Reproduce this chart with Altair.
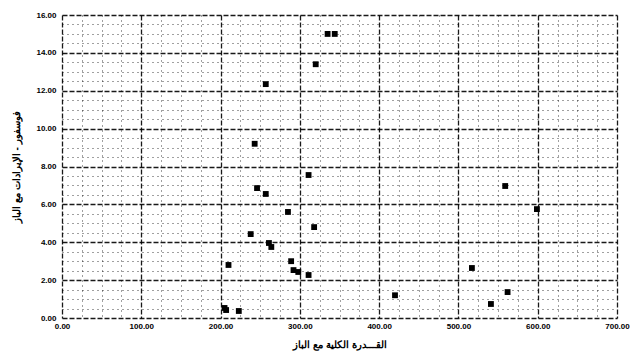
import altair as alt
import pandas as pd

# data
x_vals = [320, 257, 243, 311, 246, 257, 285, 318, 238, 261, 264, 210, 289, 292, 298, 311,
          205, 207, 223, 335, 344, 559, 599, 517, 562, 420, 541]
y_vals = [13.4, 12.35, 9.2, 7.55, 6.86, 6.55, 5.6, 4.8, 4.43, 3.96, 3.75, 2.8, 3.0, 2.53, 2.43, 2.27,
          0.53, 0.42, 0.37, 15.0, 15.0, 6.97, 5.75, 2.64, 1.37, 1.2, 0.74]

x_ticks = [0, 100, 200, 300, 400, 500, 600, 700]
y_ticks = [0, 2, 4, 6, 8, 10, 12, 14, 16]
x_grid = [i * 25 for i in range(29)]
y_grid = [i * 0.5 for i in range(33)]

x_title = "القـــدرة الكلية مع الباز"
y_title = "فوسفور - الإيرادات مع الباز"

df = pd.DataFrame({"x": x_vals, "y": y_vals})

font = "Liberation Sans"

xaxis = alt.Axis(
    values=x_grid,
    labelExpr="datum.value % 100 == 0 ? format(datum.value, '.2f') : ''",
    title=x_title, titleFont=font, titleFontSize=10, titleFontWeight="bold", titleColor="black",
    titlePadding=9,
    labelFont=font, labelFontSize=8, labelFontWeight="bold", labelColor="black", labelPadding=4,
    labelOverlap=False, labelFlush=False,
    ticks=False, domain=False,
    grid=True, gridColor="black",
    gridDash={"condition": {"test": "datum.value % 100 == 0", "value": [5, 2]}, "value": [1, 4]},
    gridWidth={"condition": {"test": "datum.value % 100 == 0", "value": 1.3}, "value": 1},
    gridOpacity={"condition": {"test": "datum.value % 100 == 0", "value": 0.9}, "value": 0.75},
)
yaxis = alt.Axis(
    values=y_grid,
    labelExpr="datum.value % 2 == 0 ? format(datum.value, '.2f') : ''",
    title=y_title, titleFont=font, titleFontSize=10, titleFontWeight="bold", titleColor="black",
    titlePadding=14,
    labelFont=font, labelFontSize=8, labelFontWeight="bold", labelColor="black", labelPadding=6,
    labelOverlap=False, labelFlush=False,
    ticks=False, domain=False,
    grid=True, gridColor="black",
    gridDash={"condition": {"test": "datum.value % 2 == 0", "value": [5, 2]}, "value": [1, 4]},
    gridWidth={"condition": {"test": "datum.value % 2 == 0", "value": 1.3}, "value": 1},
    gridOpacity={"condition": {"test": "datum.value % 2 == 0", "value": 0.9}, "value": 0.75},
)

chart = alt.Chart(df).mark_square(size=34, color="black", opacity=1).encode(
    x=alt.X("x:Q", scale=alt.Scale(domain=[0, 700], nice=False), axis=xaxis),
    y=alt.Y("y:Q", scale=alt.Scale(domain=[0, 16], nice=False), axis=yaxis),
).properties(
    width=555, height=303,
    autosize=alt.AutoSizeParams(type="none"),
    padding={"left": 62, "top": 15, "right": 24, "bottom": 38},
    background="white",
).configure_view(stroke=None)

chart.save("out.html", embed_options={"renderer": "svg", "actions": False})
